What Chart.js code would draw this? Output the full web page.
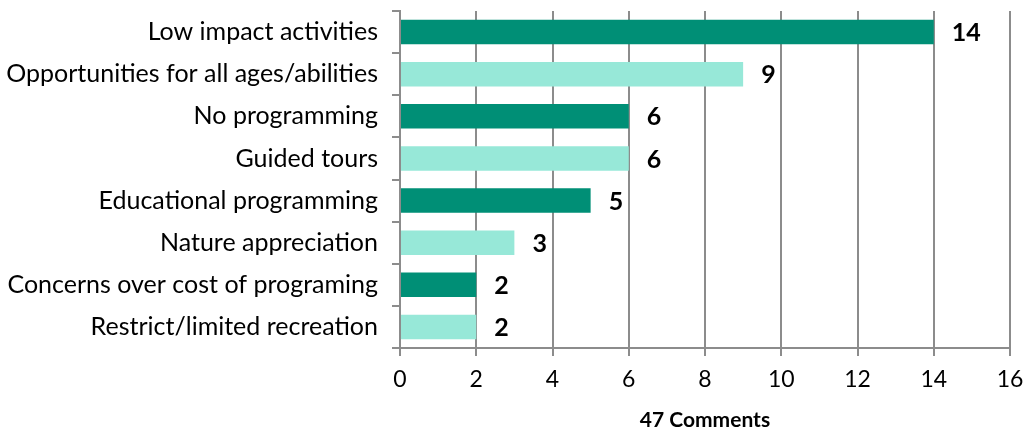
<!DOCTYPE html>
<html>
<head>
<meta charset="utf-8">
<script src="https://cdn.jsdelivr.net/npm/chart.js@4/dist/chart.umd.min.js"></script>
<style>
  html, body { margin: 0; padding: 0; background: #fff; }
  #wrap { width: 1024px; height: 433px; }
</style>
</head>
<body>
<div id="wrap"><canvas id="bar_cnt"></canvas></div>
<script>
// chart data
const categories = [
    'Low impact activities',
    'Opportunities for all ages/abilities',
    'No programming',
    'Guided tours',
    'Educational programming',
    'Nature appreciation',
    'Concerns over cost of programing',
    'Restrict/limited recreation'
];
const comments = [14, 9, 6, 6, 5, 3, 2, 2];
const xTicks = [0, 2, 4, 6, 8, 10, 12, 14, 16];
const axisTitle = '47 Comments';

const darkTeal = '#008f76';
const lightTeal = '#97e8d8';
const gridGray = '#8c8c8c';

// draws the bold value next to every bar
const valueLabels = {
    id: 'valueLabels',
    afterDatasetsDraw(chart) {
        const ctx = chart.ctx;
        const meta = chart.getDatasetMeta(0);
        ctx.save();
        ctx.font = 'bold 25px Lato';
        ctx.fillStyle = '#000';
        ctx.textAlign = 'left';
        ctx.textBaseline = 'middle';
        meta.data.forEach((bar, i) => {
            ctx.fillText(String(comments[i]), bar.x + 18, bar.y + 1);
        });
        ctx.restore();
    }
};

// let the layout padding alone decide the plot edges
function noEdgePadding(scale) {
    scale.paddingTop = 0;
    scale.paddingBottom = 0;
    scale.paddingLeft = 0;
    scale.paddingRight = 0;
}

Chart.defaults.font.family = 'Lato';
Chart.defaults.color = '#000';

new Chart(document.getElementById('bar_cnt'), {
    type: 'bar',
    data: {
        labels: categories,
        datasets: [{
            data: comments,
            backgroundColor: comments.map((v, i) => i % 2 === 0 ? darkTeal : lightTeal),
            borderWidth: 0,
            categoryPercentage: 1,
            barPercentage: 0.58
        }]
    },
    options: {
        indexAxis: 'y',
        responsive: true,
        maintainAspectRatio: false,
        animation: false,
        layout: { padding: { top: 11, right: 14, left: 0, bottom: 0 } },
        plugins: {
            legend: { display: false },
            tooltip: { enabled: false }
        },
        scales: {
            x: {
                min: 0,
                max: 16,
                afterBuildTicks(scale) {
                    scale.ticks = xTicks.map(v => ({ value: v }));
                },
                afterFit(scale) {
                    scale.height = 85;
                    noEdgePadding(scale);
                },
                grid: { color: gridGray, lineWidth: 2, tickLength: 8 },
                border: { color: gridGray, width: 2 },
                ticks: { font: { size: 23 }, padding: 10 },
                title: {
                    display: true,
                    text: axisTitle,
                    font: { size: 21, weight: 'bold' },
                    padding: { top: 6, bottom: 0 }
                }
            },
            y: {
                afterFit(scale) {
                    scale.width = 400;
                    noEdgePadding(scale);
                },
                grid: { drawOnChartArea: false, color: gridGray, lineWidth: 2, tickLength: 8, offset: true },
                border: { color: gridGray, width: 2 },
                ticks: { font: { size: 25 }, padding: 14 }
            }
        }
    },
    plugins: [valueLabels]
});
</script>
</body>
</html>
